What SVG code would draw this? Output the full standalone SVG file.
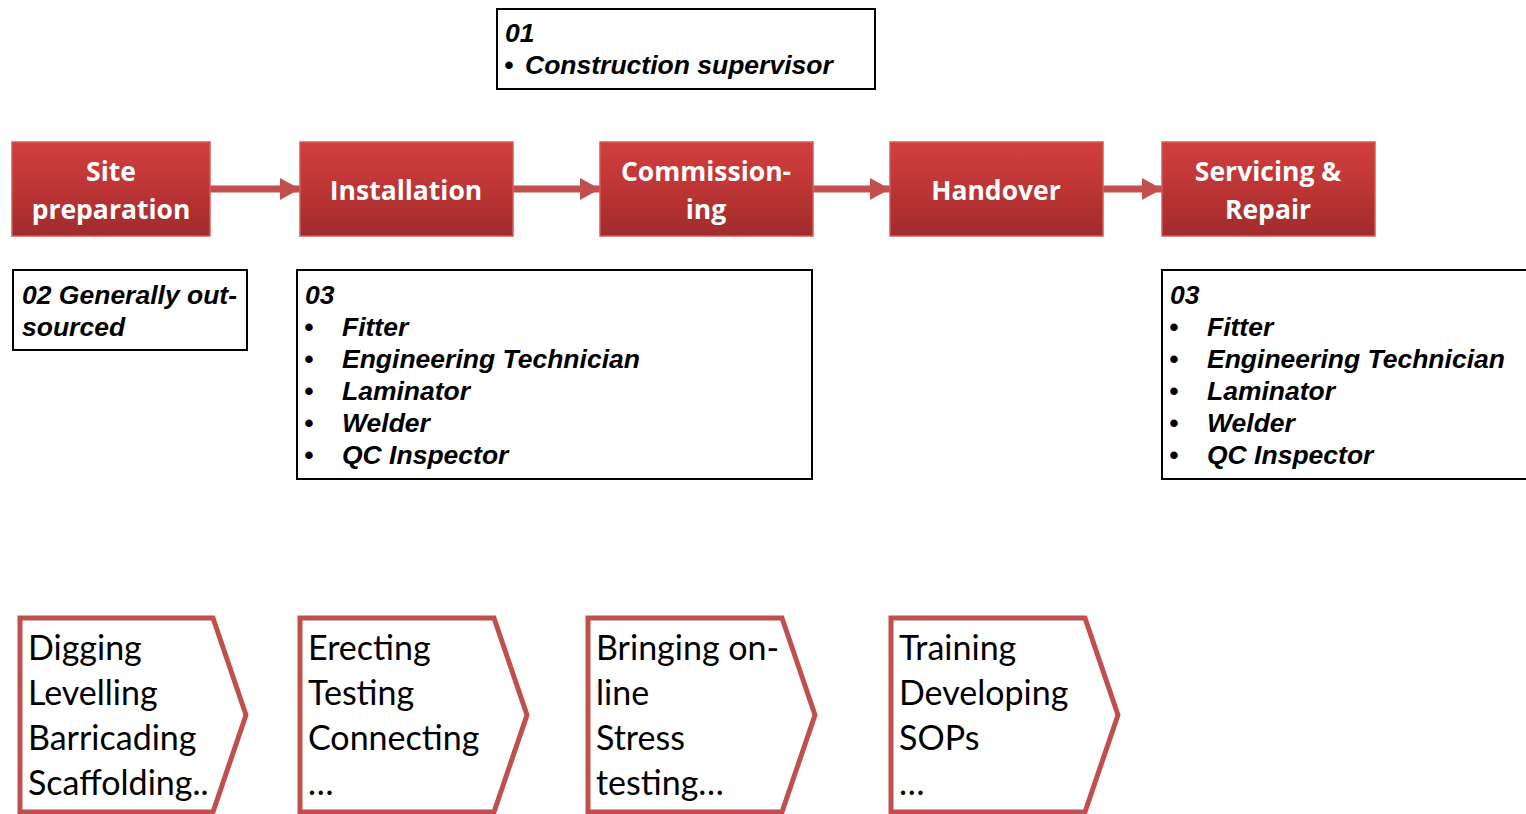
<svg xmlns="http://www.w3.org/2000/svg" width="1526" height="814" viewBox="0 0 1526 814">
<defs>
<linearGradient id="redg" x1="0" y1="0" x2="0" y2="1">
<stop offset="0" stop-color="#d13f3e"/>
<stop offset="0.5" stop-color="#bd3535"/>
<stop offset="1" stop-color="#a02b2b"/>
</linearGradient>
<marker id="ah" markerUnits="userSpaceOnUse" markerWidth="22" markerHeight="22" refX="20" refY="11" orient="auto">
<path d="M0,0 L20,11 L0,22 Z" fill="#c24f4d"/>
</marker>
<style>
.stage{fill:url(#redg);stroke:#d65a57;stroke-width:1.5}
.stxt{font-family:"Open Sans","Liberation Sans",sans-serif;font-weight:bold;font-size:26.5px;fill:#ffffff;text-anchor:middle}
.box{fill:#ffffff;stroke:#000000;stroke-width:2}
.btxt{font-family:"Liberation Sans",Arial,sans-serif;font-weight:bold;font-style:italic;font-size:26.5px;fill:#000000}
.chev{fill:#ffffff;stroke:#c0504d;stroke-width:5;stroke-linejoin:miter}
.ctxt{font-family:Lato,"Open Sans",sans-serif;font-size:34px;fill:#000000}
.conn{stroke:#c24f4d;stroke-width:7;fill:none}
</style>
</defs>
<rect width="1526" height="814" fill="#ffffff"/>

<g id="connectors">
<line class="conn" x1="201" y1="189" x2="300" y2="189" marker-end="url(#ah)"/>
<line class="conn" x1="513" y1="189" x2="600" y2="189" marker-end="url(#ah)"/>
<line class="conn" x1="813" y1="189" x2="890" y2="189" marker-end="url(#ah)"/>
<line class="conn" x1="1103" y1="189" x2="1162" y2="189" marker-end="url(#ah)"/>
</g>

<g id="site-preparation">
<rect class="stage" x="12" y="142" width="198" height="94"/>
<text class="stxt" x="111" y="181">Site</text>
<text class="stxt" x="111" y="219">preparation</text>
</g>
<g id="installation">
<rect class="stage" x="300" y="142" width="213" height="94"/>
<text class="stxt" x="406" y="200">Installation</text>
</g>
<g id="commissioning">
<rect class="stage" x="600" y="142" width="213" height="94"/>
<text class="stxt" x="706" y="181">Commission-</text>
<text class="stxt" x="706" y="219">ing</text>
</g>
<g id="handover">
<rect class="stage" x="890" y="142" width="213" height="94"/>
<text class="stxt" x="996" y="200">Handover</text>
</g>
<g id="servicing-repair">
<rect class="stage" x="1162" y="142" width="213" height="94"/>
<text class="stxt" x="1268" y="181">Servicing &amp;</text>
<text class="stxt" x="1268" y="219">Repair</text>
</g>

<g id="note-01">
<rect class="box" x="497" y="9" width="378" height="80"/>
<text class="btxt" x="505" y="42">01</text>
<text class="btxt" x="504" y="74">•</text>
<text class="btxt" x="525" y="74">Construction supervisor</text>
</g>
<g id="note-02">
<rect class="box" x="13" y="270" width="234" height="80"/>
<text class="btxt" x="22" y="304">02 Generally out-</text>
<text class="btxt" x="22" y="336">sourced</text>
</g>
<g id="note-03-installation">
<rect class="box" x="297" y="270" width="515" height="209"/>
<text class="btxt" x="305" y="304">03</text>
<g class="btxt">
<text x="304" y="336">•</text><text x="342" y="336">Fitter</text>
<text x="304" y="368">•</text><text x="342" y="368">Engineering Technician</text>
<text x="304" y="400">•</text><text x="342" y="400">Laminator</text>
<text x="304" y="432">•</text><text x="342" y="432">Welder</text>
<text x="304" y="464">•</text><text x="342" y="464">QC Inspector</text>
</g>
</g>
<g id="note-03-servicing">
<rect class="box" x="1162" y="270" width="380" height="209"/>
<text class="btxt" x="1170" y="304">03</text>
<g class="btxt">
<text x="1169" y="336">•</text><text x="1207" y="336">Fitter</text>
<text x="1169" y="368">•</text><text x="1207" y="368">Engineering Technician</text>
<text x="1169" y="400">•</text><text x="1207" y="400">Laminator</text>
<text x="1169" y="432">•</text><text x="1207" y="432">Welder</text>
<text x="1169" y="464">•</text><text x="1207" y="464">QC Inspector</text>
</g>
</g>

<g id="chevron-1">
<path class="chev" d="M20,618 L213,618 L246,715 L213,812 L20,812 Z"/>
<text class="ctxt" x="28" y="660">Digging</text>
<text class="ctxt" x="28" y="705">Levelling</text>
<text class="ctxt" x="28" y="750">Barricading</text>
<text class="ctxt" x="28" y="795">Scaffolding..</text>
</g>
<g id="chevron-2">
<path class="chev" d="M300,618 L494,618 L527,715 L494,812 L300,812 Z"/>
<text class="ctxt" x="308" y="660">Erecting</text>
<text class="ctxt" x="308" y="705">Testing</text>
<text class="ctxt" x="308" y="750">Connecting</text>
<text class="ctxt" x="308" y="795">…</text>
</g>
<g id="chevron-3">
<path class="chev" d="M588,618 L782,618 L815,715 L782,812 L588,812 Z"/>
<text class="ctxt" x="596" y="660">Bringing on-</text>
<text class="ctxt" x="596" y="705">line</text>
<text class="ctxt" x="596" y="750">Stress</text>
<text class="ctxt" x="596" y="795">testing…</text>
</g>
<g id="chevron-4">
<path class="chev" d="M891,618 L1085,618 L1118,715 L1085,812 L891,812 Z"/>
<text class="ctxt" x="899" y="660">Training</text>
<text class="ctxt" x="899" y="705">Developing</text>
<text class="ctxt" x="899" y="750">SOPs</text>
<text class="ctxt" x="899" y="795">…</text>
</g>
</svg>
